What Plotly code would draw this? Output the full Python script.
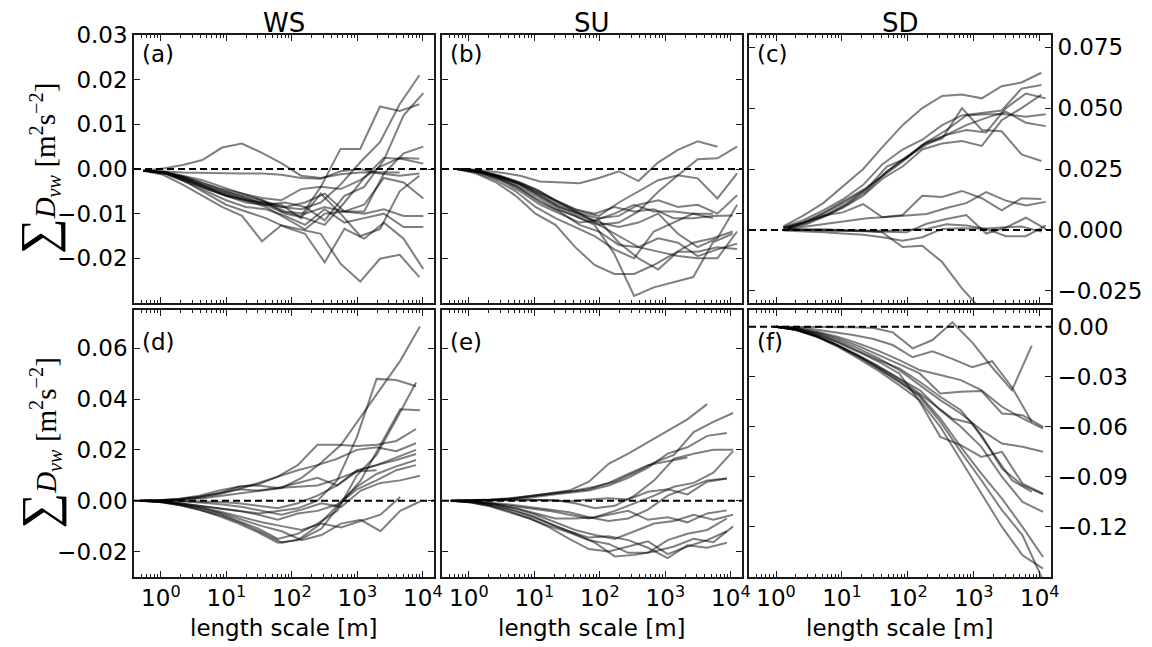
import plotly.graph_objects as go

# ---- data: cumulative D_vw [1e-3 m^2 s^-2] vs length scale [m] ----
# each panel has two length-scale grids (m); each line = (grid index, values)
COLUMNS = ["WS", "SU", "SD"]
PANEL_TAGS = ["(a)", "(b)", "(c)", "(d)", "(e)", "(f)"]
X_TICKS = [1, 10, 100, 1000, 10000]
X_TICKTEXT = ["10<sup>0</sup>", "10<sup>1</sup>", "10<sup>2</sup>", "10<sup>3</sup>", "10<sup>4</sup>"]

GRID_A = [[0.54, 1.08, 2.16, 4.3, 8.6, 17.3, 35, 69, 138, 276, 553, 1106, 2212, 4424, 8847],
          [0.62, 1.24, 2.5, 5.0, 9.9, 19.8, 40, 79, 159, 317, 635, 1270, 2540, 5080, 10160]]
LINES_A = [
    (0, [-0.4, 0.1, 0.9, 2.0, 4.8, 5.7, 3.6, 1.3, -1.5, -2.0, -1.2, -0.8, -0.7, -0.8]),
    (0, [-0.4, -0.7, -1.8, -3.5, -5.0, -6.0, -7.0, -8.5, -9.0, -7.5, -3.5, 1.5, 6.0, 14.5, 21.0]),
    (1, [-0.4, -0.8, -2.2, -4.0, -6.0, -7.5, -8.0, -7.5, -8.5, -11.5, -6.0, -4.0, 2.0, 12.0, 17.0]),
    (0, [-0.4, -0.6, -1.5, -2.5, -4.0, -5.5, -7.0, -9.5, -10.5, -4.0, 4.5, 4.5, 14.0, 13.0, 14.5]),
    (1, [-0.4, -0.9, -2.5, -4.5, -6.0, -7.0, -8.5, -11.0, -13.5, -10.0, -9.5, -9.5, -1.0, 3.5, 5.0]),
    (1, [-0.4, -0.8, -2.0, -3.5, -5.0, -6.5, -8.0, -10.0, -11.0, -12.5, -7.5, -2.0, 2.5, 2.2, 1.2]),
    (0, [-0.4, -0.5, -0.8, -0.9, -1.0, -1.0, -1.0, -1.3, -2.0, -2.2, -0.5, 0.0, -1.0, -1.5, -1.0]),
    (1, [-0.4, -1.0, -2.8, -4.5, -6.0, -7.0, -8.0, -8.5, -7.5, -5.5, -9.5, -8.0, -2.0, -3.0, -6.6]),
    (1, [-0.4, -1.0, -2.5, -4.0, -5.5, -7.0, -7.5, -9.5, -10.0, -8.5, -9.5, -10.0, -9.0, -10.5, -10.5]),
    (1, [-0.4, -1.1, -3.0, -5.0, -7.0, -8.5, -9.0, -10.5, -12.5, -9.0, -12.0, -11.0, -10.0, -13.0, -13.0]),
    (1, [-0.4, -1.2, -3.0, -5.5, -8.0, -9.5, -11.0, -13.0, -14.5, -20.9, -13.4, -15.6, -12.0, -15.6, -22.4]),
    (0, [-0.4, -1.3, -3.5, -6.0, -8.5, -10.5, -16.2, -12.6, -13.5, -14.5, -21.2, -25.2, -20.1, -19.2, -24.2]),
    (0, [-0.4, -0.9, -2.2, -4.0, -5.5, -6.5, -7.5, -8.0, -11.0, -5.5, -10.0, -15.0, -13.5, -5.0, -1.5]),
    (0, [-0.4, -0.7, -1.6, -3.0, -4.5, -5.5, -6.5, -7.0, -4.5, -4.0, -4.5, -2.5, 0.5, 2.5, 2.3]),
]

GRID_B = [[0.76, 1.52, 3.0, 6.1, 12.2, 24, 49, 97, 195, 389, 778, 1557, 3114, 6227, 12454],
          [0.65, 1.3, 2.6, 5.2, 10.4, 21, 42, 83, 166, 333, 666, 1331, 2662, 5325, 10650]]
LINES_B = [
    (0, [0, -0.3, -0.8, -1.5, -2.8, -3.0, -3.2, -2.0, -0.5, -2.7, 1.5, 4.3, 6.2, 5.0]),
    (0, [0, -0.5, -1.5, -3.0, -5.0, -7.5, -9.5, -10.5, -7.5, -5.0, -2.5, -1.4, 2.2, 2.4, 5.0]),
    (0, [0, -0.5, -1.6, -3.2, -5.5, -8.0, -10.0, -12.5, -12.0, -9.5, -5.1, -1.4, -2.1, -6.6, -1.0]),
    (0, [0, -0.6, -1.8, -3.5, -6.0, -8.5, -10.0, -11.0, -10.5, -8.0, -7.0, -8.5, -8.0, -10.0, -5.9]),
    (1, [0, -0.4, -1.4, -2.8, -4.5, -7.0, -9.0, -10.0, -8.5, -9.5, -9.0, -11.0, -11.0, -10.5, -10.4]),
    (1, [0, -0.5, -1.5, -3.0, -5.0, -7.0, -9.5, -11.5, -10.0, -8.0, -9.5, -9.5, -10.0, -10.0]),
    (0, [0, -0.6, -2.0, -4.0, -6.5, -9.0, -11.0, -12.5, -15.0, -17.5, -18.5, -19.5, -20.0, -20.0, -14.0]),
    (0, [0, -0.7, -2.2, -4.5, -7.5, -9.5, -12.5, -14.0, -17.0, -17.5, -15.5, -16.5, -19.5, -18.0, -16.7]),
    (0, [0, -0.8, -2.5, -5.0, -8.0, -10.0, -12.0, -11.5, -16.5, -20.0, -22.5, -18.5, -18.5, -17.5, -17.9]),
    (1, [0, -0.6, -1.9, -3.8, -6.5, -9.0, -10.5, -12.5, -19.0, -28.4, -26.5, -25.4, -24.2, -16.4, -14.5]),
    (1, [0, -1.0, -3.0, -6.0, -10.0, -12.5, -17.5, -21.5, -23.5, -23.5, -21.5, -19.0, -16.5, -15.5, -14.0]),
    (1, [0, -0.8, -2.5, -5.0, -8.5, -11.0, -13.0, -15.0, -18.0, -20.0, -14.0, -12.0, -10.0, -11.0]),
    (0, [0, -0.5, -1.8, -3.5, -6.0, -8.5, -10.5, -12.0, -13.0, -12.0, -10.0, -14.5, -17.5, -15.5, -8.0]),
]

GRID_C = [[1.29, 2.58, 5.2, 10.3, 21, 41, 83, 165, 330, 660, 1321, 2642, 5284, 10568],
          [1.5, 3.0, 6.0, 12, 24, 48, 96, 192, 384, 768, 1536, 3072, 6144, 12288]]
LINES_C = [
    (0, [1.4, 5.9, 11.0, 18.0, 25.0, 34.0, 43.0, 50.0, 55.0, 55.6, 54.0, 59.0, 60.5, 64.5]),
    (0, [1.0, 4.0, 8.0, 12.5, 18.5, 27.0, 33.0, 37.0, 43.0, 47.0, 48.0, 49.0, 58.0, 59.5]),
    (1, [0.8, 3.5, 7.5, 12.0, 17.0, 24.0, 30.0, 35.0, 39.0, 41.0, 40.0, 50.0, 56.0, 54.0]),
    (1, [0.6, 3.0, 6.5, 11.0, 17.0, 26.0, 29.5, 36.0, 41.0, 47.0, 47.5, 47.5, 46.5, 47.5]),
    (1, [0.5, 2.5, 6.0, 10.5, 16.0, 24.0, 30.0, 36.0, 39.0, 43.0, 46.0, 48.5, 44.0, 42.6]),
    (0, [0.7, 3.2, 7.0, 11.5, 16.5, 22.0, 28.0, 35.0, 37.5, 50.0, 41.0, 40.5, 31.0, 28.3]),
    (0, [0.9, 3.0, 5.5, 9.0, 14.0, 21.0, 26.0, 33.0, 35.5, 36.5, 34.5, 45.0, 50.0, 55.5]),
    (0, [0.5, 3.0, 5.9, 7.2, 10.6, 5.2, 6.1, 14.0, 13.5, 16.0, 13.0, 8.0, 13.0, 12.7]),
    (1, [0.4, 1.5, 2.8, 4.0, 4.8, 5.3, 6.0, 6.5, 9.0, 11.0, 15.5, 12.0, 10.0, 11.5]),
    (0, [0.3, 0.4, 0.3, 0.0, -0.3, -1.0, -7.0, -6.5, -13.2, -24.0, -33.0]),
    (1, [0.2, 0.0, -0.3, -0.4, -0.8, -1.0, -1.0, 2.5, 4.5, 6.1, -1.5, 1.0, 5.0, 0.4]),
    (1, [0.1, -0.1, -0.2, -0.3, -0.3, -0.3, 0.1, 0.4, 2.3, 1.8, 0.4, -2.6, -2.6, 1.8]),
    (0, [-0.2, -0.5, -1.0, -1.5, -2.0, -3.0, -4.4, -3.0, 0.4, 0.7, 0.5, 1.0, 1.4, -0.7]),
]

GRID_D = [[0.48, 0.96, 1.92, 3.84, 7.7, 15.4, 31, 61, 123, 246, 492, 983, 1966, 3932, 7864],
          [0.55, 1.1, 2.2, 4.4, 8.8, 17.6, 35, 70, 141, 282, 563, 1126, 2253, 4506, 9011]]
LINES_D = [
    (1, [0, 0.1, 0.4, 1.0, 2.0, 3.0, 4.0, 5.0, 9.0, 15.0, 22.0, 33.0, 44.0, 55.0, 68.5]),
    (0, [0, -0.3, -1.0, -2.0, -3.0, -4.0, -5.0, -4.0, -3.0, 0.0, 8.0, 25.0, 47.9, 47.5, 45.0]),
    (0, [0, -0.5, -1.5, -3.0, -5.0, -8.0, -11.0, -15.0, -13.0, -9.0, -4.0, 10.0, 18.0, 32.0, 46.5]),
    (1, [0, -0.6, -2.0, -4.0, -6.0, -9.0, -12.5, -16.5, -15.0, -11.0, -1.0, 8.0, 22.0, 36.0, 35.6]),
    (0, [0, 0.2, 0.7, 1.6, 3.0, 5.5, 6.5, 9.5, 14.0, 22.0, 22.0, 21.5, 22.0, 23.5, 28.2]),
    (0, [0, 0.1, 0.5, 1.2, 2.5, 4.5, 7.0, 9.5, 12.0, 14.0, 16.5, 20.0, 21.0, 19.5, 22.6]),
    (0, [0, 0.0, 0.0, -0.3, -0.5, -1.0, -2.0, -3.0, -1.0, 2.0, 6.0, 11.5, 14.0, 16.0, 18.4]),
    (0, [0, 0.2, 0.5, 1.5, 3.0, 4.5, 4.0, 5.0, 5.5, 6.0, 8.5, 11.5, 12.0]),
    (1, [0, -0.1, -0.3, -0.8, -1.5, -2.5, -4.0, -5.5, -3.5, -1.0, -2.5, 4.0, 7.0, 8.0, 9.8]),
    (1, [0, -0.5, -1.5, -3.0, -5.0, -7.5, -10.0, -12.0, -15.5, -13.5, -9.0, -7.5, -12.0, -4.0, -0.3]),
    (0, [0, -0.5, -1.8, -3.5, -6.0, -9.0, -12.5, -16.5, -15.5, -10.0, -2.0, 4.5, 8.0, 12.0, 14.0]),
    (0, [0, -0.3, -1.0, -2.0, -3.0, -4.0, -5.5, -7.5, -5.0, -4.0, -1.5, 5.5, 10.5, 13.5, 16.0]),
    (0, [0, 0.2, 0.8, 2.0, 4.0, 5.5, 6.0, 5.0, 7.0, 9.0, 6.0, 12.0, 14.0, 17.0, 20.0]),
    (1, [0, -0.4, -1.4, -2.8, -4.5, -6.5, -8.5, -10.0, -11.5, -9.0, -10.5, -8.0, -5.5, 1.5]),
]

GRID_E = [[0.53, 1.06, 2.1, 4.2, 8.5, 17, 34, 68, 136, 271, 543, 1085, 2170, 4341, 8682],
          [0.66, 1.32, 2.6, 5.3, 10.6, 21, 42, 84, 169, 338, 676, 1352, 2703, 5407, 10813]]
LINES_E = [
    (0, [0, 0.1, 0.3, 0.8, 1.8, 2.8, 4.0, 7.5, 14.5, 18.5, 23.0, 27.5, 32.0, 38.0]),
    (1, [0, 0.1, 0.4, 1.0, 2.0, 3.0, 4.0, 5.5, 7.5, 11.0, 15.0, 18.0, 27.0, 31.0, 34.5]),
    (0, [0, 0.1, 0.3, 0.6, 1.2, 2.2, 3.0, 4.0, 6.0, 9.0, 13.0, 18.5, 21.0, 25.5, 26.6]),
    (1, [0, 0.0, 0.1, 0.2, 0.3, 0.2, -1.0, -3.0, -2.0, 2.0, 8.0, 16.5, 18.5, 20.0, 20.0]),
    (0, [0, 0.2, 0.5, 1.0, 1.8, 2.5, 3.5, 4.5, 7.0, 10.5, 14.0, 15.5, 17.0]),
    (1, [0, -0.5, -1.5, -3.0, -5.0, -7.0, -7.0, -6.5, -4.0, -1.0, 2.0, 5.5, 7.0, 11.0, 19.5]),
    (0, [0, -0.3, -0.8, -1.5, -2.5, -3.5, -4.5, -6.5, -8.0, -7.0, -3.5, 2.0, 5.0, 8.0, 8.7]),
    (0, [0, 0.1, 0.2, 0.3, 0.4, 0.2, -0.2, 0.5, 1.0, 0.5, 3.5, 4.5, 2.5, 7.5, 8.7]),
    (0, [0, -0.3, -1.0, -2.0, -3.0, -4.0, -5.5, -7.0, -5.5, -4.0, -7.5, -6.5, -8.5, -5.0, -3.8]),
    (1, [0, -0.5, -1.5, -3.2, -5.5, -8.5, -11.5, -13.5, -15.0, -12.0, -9.0, -8.0, -5.5, -7.5, -5.5]),
    (1, [0, -0.6, -2.0, -4.0, -6.5, -10.0, -13.0, -16.5, -21.9, -21.3, -20.0, -18.0, -15.0, -16.3, -10.1]),
    (0, [0, -0.7, -2.2, -4.5, -7.0, -10.5, -15.0, -19.0, -20.0, -18.0, -16.0, -21.0, -18.0, -15.5, -12.0]),
    (0, [0, -0.5, -1.8, -3.5, -6.0, -9.0, -12.0, -14.5, -14.0, -15.5, -18.5, -22.6, -17.5, -18.5, -16.5]),
    (0, [0, -0.6, -2.0, -4.2, -7.0, -10.0, -12.5, -15.5, -17.0, -20.5, -20.5, -15.5, -13.0, -11.5, -7.0]),
]

GRID_F = [[1.0, 2.05, 4.2, 8.6, 17.6, 36, 74, 151, 310, 635, 1300, 2670, 5470, 11200],
          [0.92, 1.85, 3.7, 7.4, 14.8, 30, 59, 118, 236, 472, 944, 1890, 3780, 7550]]
LINES_F = [
    (1, [0, 0, 0, -0.2, -0.4, -0.8, -3.4, -13.0, -8.0, 2.6, -9.4, -24.3, -38.0, -11.4]),
    (1, [0, -0.5, -1.5, -3.4, -5.0, -7.4, -11.0, -18.3, -14.7, -19.3, -24.3, -20.7, -36.3, -57.0]),
    (0, [0, -1.0, -3.0, -6.0, -10.0, -14.5, -20.0, -26.0, -29.0, -32.0, -38.0, -48.0, -55.0, -61.0]),
    (0, [0, -1.2, -3.5, -7.0, -11.5, -17.0, -22.5, -28.0, -40.0, -39.0, -38.5, -52.0, -53.0, -60.0]),
    (0, [0, -1.3, -4.0, -8.0, -13.0, -19.0, -26.0, -35.0, -44.0, -52.0, -62.0, -70.0, -72.0, -75.0]),
    (0, [0, -1.5, -4.5, -9.0, -14.5, -20.0, -25.0, -33.0, -42.0, -50.0, -65.0, -85.0, -95.0, -100.4]),
    (0, [0, -1.6, -4.8, -9.5, -15.0, -21.0, -28.0, -45.0, -66.0, -71.0, -78.0, -75.0, -94.0, -100.0]),
    (0, [0, -1.8, -5.5, -11.0, -17.0, -24.0, -31.0, -38.0, -50.0, -60.0, -72.0, -90.0, -105.0, -111.0]),
    (0, [0, -2.0, -6.0, -11.5, -18.0, -25.0, -33.0, -41.0, -55.0, -72.0, -88.0, -103.0, -120.0, -138.0]),
    (0, [0, -2.0, -6.2, -12.0, -19.0, -26.5, -35.0, -44.0, -60.0, -80.0, -100.0, -120.0, -137.0, -145.0]),
    (0, [0, -1.9, -5.8, -11.0, -17.5, -25.0, -33.0, -42.0, -57.0, -75.0, -92.0, -110.0, -125.0, -152.0]),
    (1, [0, -1.7, -5.0, -10.0, -16.0, -22.0, -29.0, -37.0, -46.0, -55.0, -58.0, -75.0, -92.0, -99.0]),
]

PANELS = [(GRID_A, LINES_A), (GRID_B, LINES_B), (GRID_C, LINES_C),
          (GRID_D, LINES_D), (GRID_E, LINES_E), (GRID_F, LINES_F)]

# y axes per panel: range, tick values, format
Y_RANGES = [[-0.03, 0.03], [-0.03, 0.03], [-0.03, 0.08],
            [-0.03, 0.075], [-0.03, 0.075], [-0.15, 0.01]]
Y_TICKS = [[-0.02, -0.01, 0, 0.01, 0.02, 0.03], [-0.02, -0.01, 0, 0.01, 0.02, 0.03],
           [-0.025, 0, 0.025, 0.05, 0.075],
           [-0.02, 0, 0.02, 0.04, 0.06], [-0.02, 0, 0.02, 0.04, 0.06],
           [-0.12, -0.09, -0.06, -0.03, 0]]
Y_FORMATS = [".2f", ".2f", ".3f", ".2f", ".2f", ".2f"]

W, H = 1152, 647
OFF = 8  # page body margin shifts the figure by this much
COL_PX = [(134, 434), (442, 742), (749, 1051)]
ROW_PX = [(35, 303), (310, 577)]


def px_x(p):
    return (p - OFF) / W


def px_y(p):
    return 1 - (p - OFF) / H


LINE_COLOR = "rgba(0,0,0,0.5)"
FRAME = "#1a1a1a"
MINOR = [m * 10 ** d for d in range(-1, 5) for m in range(2, 10)]

fig = go.Figure()

for i, (grids, lines) in enumerate(PANELS):
    n = i + 1
    sfx = "" if n == 1 else str(n)
    for g, vals in lines:
        xs = grids[g][:len(vals)]
        fig.add_trace(go.Scatter(
            x=xs, y=[v * 1e-3 for v in vals], mode="lines",
            line=dict(color=LINE_COLOR, width=2),
            xaxis="x" + sfx, yaxis="y" + sfx,
            showlegend=False, hoverinfo="skip"))

    row, col = divmod(i, 3)
    x0, x1 = COL_PX[col]
    y0, y1 = ROW_PX[row]
    fig.layout["xaxis" + sfx] = dict(
        type="log", range=[-0.41, 4.17], domain=[px_x(x0), px_x(x1)], anchor="y" + sfx,
        tickmode="array", tickvals=X_TICKS, ticktext=X_TICKTEXT, automargin=False,
        showticklabels=(row == 1), ticks="inside", ticklen=6, tickwidth=1.2,
        tickcolor=FRAME, mirror="ticks", showline=True, linecolor=FRAME, linewidth=1.6,
        showgrid=False, zeroline=False,
        minor=dict(tickmode="array", tickvals=MINOR, ticks="inside", ticklen=3,
                   tickcolor=FRAME, tickwidth=1, showgrid=False),
        tickfont=dict(size=23, color="black"))
    fig.layout["yaxis" + sfx] = dict(
        range=Y_RANGES[i], domain=[px_y(y1), px_y(y0)], anchor="x" + sfx,
        tickmode="array", tickvals=Y_TICKS[i], tickformat=Y_FORMATS[i], automargin=False,
        side="right" if col == 2 else "left", showticklabels=(col != 1),
        ticks="inside", ticklen=6, tickwidth=1.2, tickcolor=FRAME, mirror="ticks",
        showline=True, linecolor=FRAME, linewidth=1.6, showgrid=False, zeroline=False,
        tickfont=dict(size=23, color="black"))

    # dashed zero reference
    fig.add_shape(type="line", xref="x" + sfx + " domain", yref="y" + sfx,
                  x0=0, x1=1, y0=0, y1=0,
                  line=dict(color="black", width=2, dash="7px,4px"))

    # panel tag
    fig.add_annotation(text=PANEL_TAGS[i], xref="x" + sfx + " domain", yref="y" + sfx + " domain",
                       x=0.02, y=0.985 if row == 0 else 0.935, xanchor="left", yanchor="top",
                       showarrow=False, font=dict(size=23, color="black"))

for col, name in enumerate(COLUMNS):
    x0, x1 = COL_PX[col]
    fig.add_annotation(text=name, xref="paper", yref="paper", x=px_x((x0 + x1) / 2), y=px_y(23),
                       xanchor="center", yanchor="middle",
                       showarrow=False, font=dict(size=26, color="black"))
    fig.add_annotation(text="length scale [m]", xref="paper", yref="paper",
                       x=px_x((x0 + x1) / 2), y=px_y(628), xanchor="center", yanchor="middle",
                       showarrow=False, font=dict(size=23, color="black"))

YTITLE = ('<span style="font-size:50px">∑</span><i>D</i><sub><i>vw</i></sub>'
          ' [m<sup>2</sup>s<sup>−2</sup>]')
for row in range(2):
    y0, y1 = ROW_PX[row]
    fig.add_annotation(text=YTITLE, xref="paper", yref="paper", x=px_x(38), y=px_y((y0 + y1) / 2),
                       xanchor="center", yanchor="middle", textangle=-90, showarrow=False,
                       font=dict(size=29, color="black", family="Liberation Serif"))

fig.update_layout(
    template="none",
    width=W, height=H, margin=dict(l=0, r=0, t=0, b=0),
    paper_bgcolor="white", plot_bgcolor="white",
    font=dict(family="DejaVu Sans", size=22, color="black"))

fig.write_html("out.html")
